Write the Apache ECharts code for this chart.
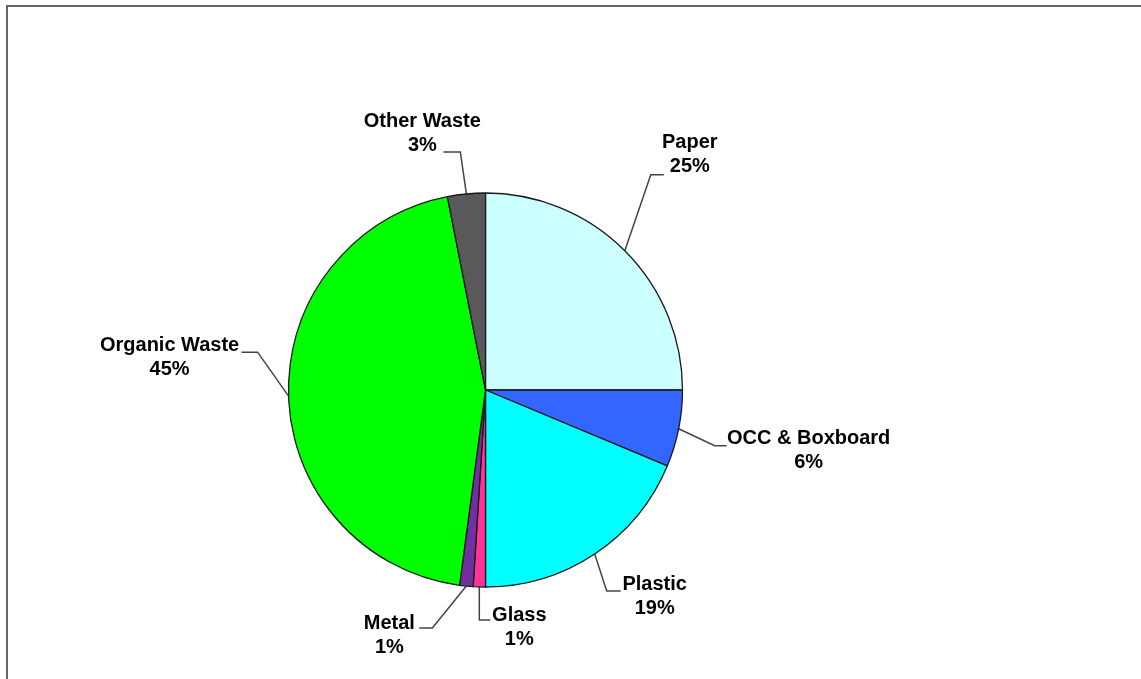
<!DOCTYPE html>
<html>
<head>
<meta charset="utf-8">
<script src="https://cdn.jsdelivr.net/npm/echarts@6/dist/echarts.min.js"></script>
<style>
html,body{margin:0;padding:0;background:#fff;}
#chart{width:1141px;height:679px;}
</style>
</head>
<body>
<div id="chart"></div>
<script>
// Data
const categories = ['Paper', 'OCC & Boxboard', 'Plastic', 'Glass', 'Metal', 'Organic Waste', 'Other Waste'];
const shares = [25.0, 6.3, 18.7, 1.0, 1.1, 44.8, 3.1];
const sliceColors = ['#CCFFFF', '#3366FF', '#00FFFF', '#FF3399', '#7030A0', '#00FF00', '#595959'];

// Label leader-line offsets (style): [dx1, dy1, horizontal, textDx, textDy]
const leaderStyle = [
  [26, -76, 13, 26, -20],
  [36, 17, 12, 82, 5],
  [12, 37, 14, 34, 6],
  [0, 33, 11, 29, 8],
  [-34, 42, -13, -30, 7],
  [-31, -44, -16, -72, 5],
  [-6, -42, -17, -21, -18]
];

const chart = echarts.init(document.getElementById('chart'));
chart.setOption({
  animation: false,
  backgroundColor: '#ffffff',
  graphic: [{
    type: 'rect',
    shape: { x: 7, y: 6, width: 1300, height: 800 },
    style: { fill: 'none', stroke: '#666666', lineWidth: 2 },
    silent: true
  }],
  series: [{
    type: 'pie',
    center: [485.5, 390],
    radius: 197,
    startAngle: 90,
    clockwise: true,
    avoidLabelOverlap: false,
    data: categories.map((name, i) => ({
      name: name,
      value: shares[i],
      itemStyle: { color: sliceColors[i] }
    })),
    itemStyle: { borderColor: '#1a1a1a', borderWidth: 1.3 },
    label: {
      show: true,
      position: 'outside',
      formatter: p => p.name + '\n' + Math.round(p.percent) + '%',
      fontFamily: '"Liberation Sans", Arial, sans-serif',
      fontWeight: 'bold',
      fontSize: 20,
      lineHeight: 24,
      color: '#000000',
      align: 'center'
    },
    labelLine: {
      show: true,
      length: 20,
      length2: 10,
      smooth: false,
      lineStyle: { color: '#444444', width: 1.5 }
    },
    labelLayout: function (params) {
      const s = leaderStyle[params.dataIndex];
      const pts = params.labelLinePoints;
      if (!pts || !s) return {};
      const p0 = pts[0];
      const p1 = [p0[0] + s[0], p0[1] + s[1]];
      const p2 = [p1[0] + s[2], p1[1]];
      return {
        x: p2[0] + s[3],
        y: p2[1] + s[4],
        align: 'center',
        verticalAlign: 'middle',
        labelLinePoints: [p0, p1, p2]
      };
    },
    emphasis: { disabled: true }
  }]
});
</script>
</body>
</html>
